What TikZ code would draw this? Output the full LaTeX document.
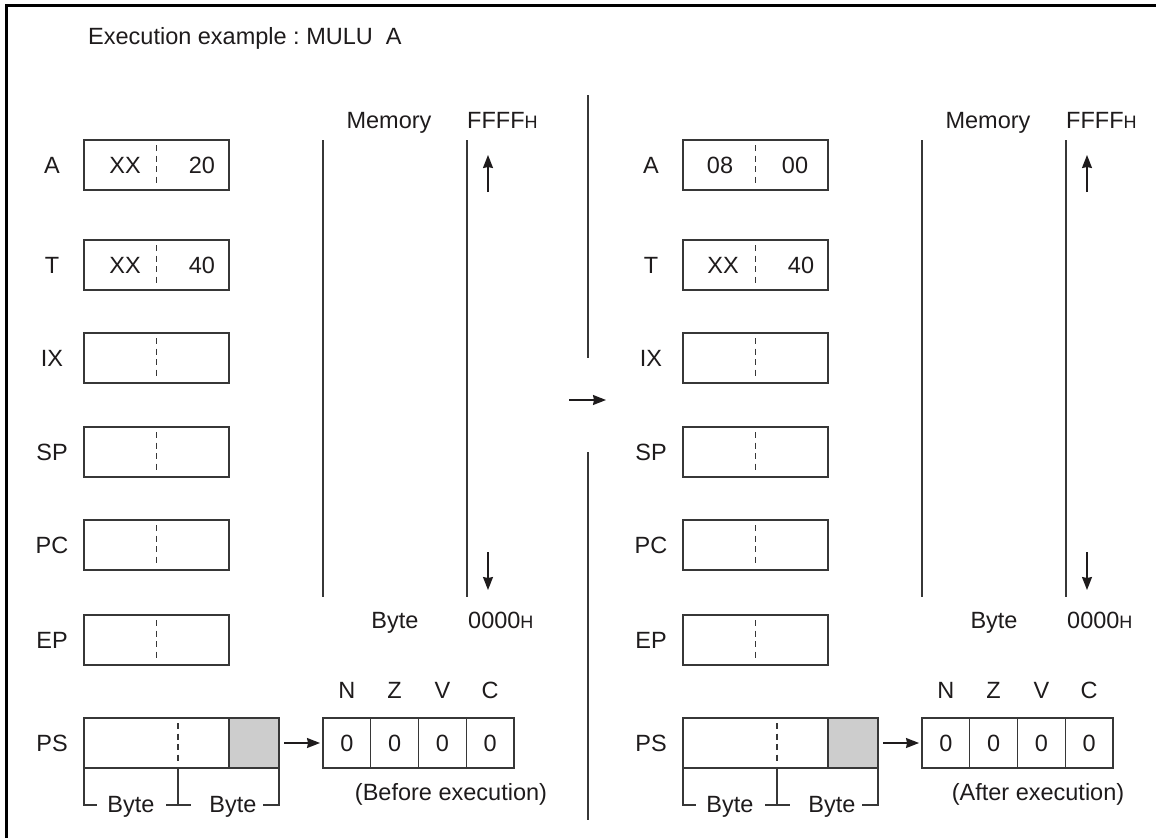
\documentclass[tikz,border=0pt]{standalone}
\usepackage{fontspec}
\setmainfont{Liberation Sans}
\usetikzlibrary{arrows.meta, positioning}
\definecolor{linegray}{RGB}{55,55,55}
\definecolor{inkgray}{RGB}{30,27,28}
\definecolor{flaggray}{RGB}{205,205,205}
\tikzset{
  reg/.style={rectangle, draw=linegray, line width=1.3pt, minimum width=145pt,
    minimum height=50pt, inner sep=0pt, outer sep=0pt},
  cell/.style={rectangle, draw=linegray, line width=1.3pt, minimum width=47.75pt,
    minimum height=50pt, inner sep=0pt, outer sep=0pt,
    font=\fontsize{23.5}{28}\selectfont, text=inkgray},
  txt/.style={inner sep=0pt, anchor=base, font=\fontsize{23.5}{28}\selectfont, text=inkgray},
  divline/.style={linegray, line width=1.5pt, dash pattern=on 6pt off 4.5pt},
  wall/.style={linegray, line width=1.3pt},
  arr/.style={-{Stealth[length=13pt, width=10pt, inset=1pt]}, line width=1.4pt, inkgray},
}
\newcommand{\hsub}{{\fontsize{18}{20}\selectfont H}}

\begin{document}
\begin{tikzpicture}[x=1pt, y=-1pt]
\useasboundingbox (0,0) rectangle (1156,838);

% ── Frame and title ──
\draw[line width=2.8pt] (6.5,838) -- (6.5,5.5) -- (1156,5.5);
\node[txt, anchor=base west] (title) at (88,44) {Execution example :~MULU~~A};

% ── Left panel: registers ──
\node[reg] (regA) at (156.5,165) {};
\node[reg] (regT) at (156.5,265) {};
\node[reg] (regIX) at (156.5,358) {};
\node[reg] (regSP) at (156.5,452) {};
\node[reg] (regPC) at (156.5,545) {};
\node[reg] (regEP) at (156.5,640) {};
\node[reg, fill=flaggray, minimum width=50pt] (regCCR) at (254,743) {};
\node[reg, minimum width=195pt] (regPS) at (181.5,743) {};
\draw[linegray, line width=1.3pt] (regCCR.north west) -- (regCCR.south west);

\node[txt] (labA) at (52,173.5) {A};
\node[txt] (labT) at (52,273.5) {T};
\node[txt] (labIX) at (52,366.5) {IX};
\node[txt] (labSP) at (52,460.5) {SP};
\node[txt] (labPC) at (52,553.5) {PC};
\node[txt] (labEP) at (52,648.5) {EP};
\node[txt] (labPS) at (52,751.5) {PS};

\node[txt] (valAh) at (125,173.5) {XX};
\node[txt] (valAl) at (202,173.5) {20};
\node[txt] (valTh) at (125,273.5) {XX};
\node[txt] (valTl) at (202,273.5) {40};

\foreach \r in {regA, regT, regIX, regSP, regPC, regEP}
  \draw[divline] ([yshift=-5pt]\r.north) -- ([yshift=5pt]\r.south);
\coordinate (psmidN) at (178,723);
\coordinate (psmidS) at (178,763);
\draw[divline] (psmidN) -- (psmidS);

% ── Byte brackets under PS ──
\draw[wall] (regPS.south west) -- ++(0,37) -- ++(13,0);
\draw[wall] (178,768) -- (178,805);
\draw[wall] (166,805) -- (191,805);
\draw[wall] (regPS.south east) -- ++(0,37) -- ++(-16,0);
\node[txt] (byteH) at (131,812) {Byte};
\node[txt] (byteL) at (233,812) {Byte};

% ── Flags ──
\node[cell] (flagN) at (346.9,743) {0};
\node[cell, right=0pt of flagN] (flagZ) {0};
\node[cell, right=0pt of flagZ] (flagV) {0};
\node[cell, right=0pt of flagV] (flagC) {0};
\node[txt, anchor=south, above=19pt of flagN] {N};
\node[txt, anchor=south, above=19pt of flagZ] {Z};
\node[txt, anchor=south, above=19pt of flagV] {V};
\node[txt, anchor=south, above=19pt of flagC] {C};
\draw[arr, shorten <=5pt, shorten >=3pt] (regPS.east) -- (flagN.west);
\node[txt] (before) at (451,800) {(Before execution)};

% ── Memory ──
\draw[wall] (323,140) -- (323,597);
\draw[wall] (467,140) -- (467,597);
\node[txt] (memlab) at (389,128) {Memory};
\node[txt, anchor=base west] (memtop) at (467,128) {FFFF\hsub};
\node[txt] (memunit) at (395,628) {Byte};
\node[txt, anchor=base west] (membot) at (468,628) {0000\hsub};
\coordinate (upS) at (488,192);
\coordinate (upN) at (488,155);
\coordinate (dnN) at (488,552);
\coordinate (dnS) at (488,590);
\draw[arr] (upS) -- (upN);
\draw[arr] (dnN) -- (dnS);

% ── Divider and step arrow ──
\draw[wall] (588,95) -- (588,358);
\draw[wall] (588,452) -- (588,820);
\coordinate (stepL) at (569,400);
\coordinate (stepR) at (606,400);
\draw[arr] (stepL) -- (stepR);

% ── Right panel: same layout after execution ──
\begin{scope}[xshift=599pt]
\node[reg] (regAr) at (156.5,165) {};
\node[reg] (regTr) at (156.5,265) {};
\node[reg] (regIXr) at (156.5,358) {};
\node[reg] (regSPr) at (156.5,452) {};
\node[reg] (regPCr) at (156.5,545) {};
\node[reg] (regEPr) at (156.5,640) {};
\node[reg, fill=flaggray, minimum width=50pt] (regCCRr) at (254,743) {};
\node[reg, minimum width=195pt] (regPSr) at (181.5,743) {};
\draw[linegray, line width=1.3pt] (regCCRr.north west) -- (regCCRr.south west);

\node[txt] (labAr) at (52,173.5) {A};
\node[txt] (labTr) at (52,273.5) {T};
\node[txt] (labIXr) at (52,366.5) {IX};
\node[txt] (labSPr) at (52,460.5) {SP};
\node[txt] (labPCr) at (52,553.5) {PC};
\node[txt] (labEPr) at (52,648.5) {EP};
\node[txt] (labPSr) at (52,751.5) {PS};

\node[txt] (valAhr) at (121,173.5) {08};
\node[txt] (valAlr) at (196,173.5) {00};
\node[txt] (valThr) at (124,273.5) {XX};
\node[txt] (valTlr) at (202,273.5) {40};

\foreach \r in {regAr, regTr, regIXr, regSPr, regPCr, regEPr}
  \draw[divline] ([yshift=-5pt]\r.north) -- ([yshift=5pt]\r.south);
\coordinate (psmidNr) at (178,723);
\coordinate (psmidSr) at (178,763);
\draw[divline] (psmidNr) -- (psmidSr);

\draw[wall] (regPSr.south west) -- ++(0,37) -- ++(13,0);
\draw[wall] (178,768) -- (178,805);
\draw[wall] (166,805) -- (191,805);
\draw[wall] (regPSr.south east) -- ++(0,37) -- ++(-16,0);
\node[txt] (byteHr) at (131,812) {Byte};
\node[txt] (byteLr) at (233,812) {Byte};

\node[cell] (flagNr) at (346.9,743) {0};
\node[cell, right=0pt of flagNr] (flagZr) {0};
\node[cell, right=0pt of flagZr] (flagVr) {0};
\node[cell, right=0pt of flagVr] (flagCr) {0};
\node[txt, anchor=south, above=19pt of flagNr] {N};
\node[txt, anchor=south, above=19pt of flagZr] {Z};
\node[txt, anchor=south, above=19pt of flagVr] {V};
\node[txt, anchor=south, above=19pt of flagCr] {C};
\draw[arr, shorten <=5pt, shorten >=3pt] (regPSr.east) -- (flagNr.west);
\node[txt] (after) at (439,800) {(After execution)};

\draw[wall] (323,140) -- (323,597);
\draw[wall] (467,140) -- (467,597);
\node[txt] (memlabr) at (389,128) {Memory};
\node[txt, anchor=base west] (memtopr) at (467,128) {FFFF\hsub};
\node[txt] (memunitr) at (395,628) {Byte};
\node[txt, anchor=base west] (membotr) at (468,628) {0000\hsub};
\coordinate (upSr) at (488,192);
\coordinate (upNr) at (488,155);
\coordinate (dnNr) at (488,552);
\coordinate (dnSr) at (488,590);
\draw[arr] (upSr) -- (upNr);
\draw[arr] (dnNr) -- (dnSr);
\end{scope}

\end{tikzpicture}
\end{document}
